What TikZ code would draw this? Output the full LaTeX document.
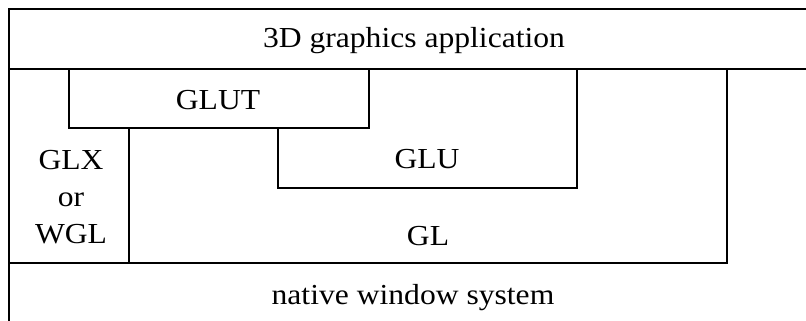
\documentclass[tikz,border=0pt]{standalone}
\usepackage{fontspec}
\setmainfont[FakeStretch=1.09]{Liberation Serif}
\begin{document}
\begin{tikzpicture}[x=1pt,y=-1pt,line width=1.5pt,
  lbl/.style={font=\fontsize{29}{37}\selectfont,inner sep=0pt,align=center}]
\useasboundingbox (0,0) rectangle (806,321);
% outer frame: top line, left line
\draw (806,9) -- (9,9) -- (9,321);
% application bottom line
\draw (9,69) -- (806,69);
% GLUT box
\draw (69,69) -- (69,128) -- (369,128) -- (369,69);
% GLU box
\draw (278,128) -- (278,188) -- (577,188) -- (577,69);
% GL box
\draw (129,128) -- (129,263);
\draw (9,263) -- (727,263) -- (727,69);
% labels
\node[lbl,anchor=base] (app) at (414,48) {3D graphics application};
\node[lbl,anchor=base] (glut) at (218,110) {GLUT};
\node[lbl,anchor=base] (glu) at (427,168) {GLU};
\node[lbl] (glx) at (71,197) {GLX\\or\\WGL};
\node[lbl,anchor=base] (gl) at (428,245) {GL};
\node[lbl,anchor=base] (win) at (413,304) {native window system};
\end{tikzpicture}
\end{document}
